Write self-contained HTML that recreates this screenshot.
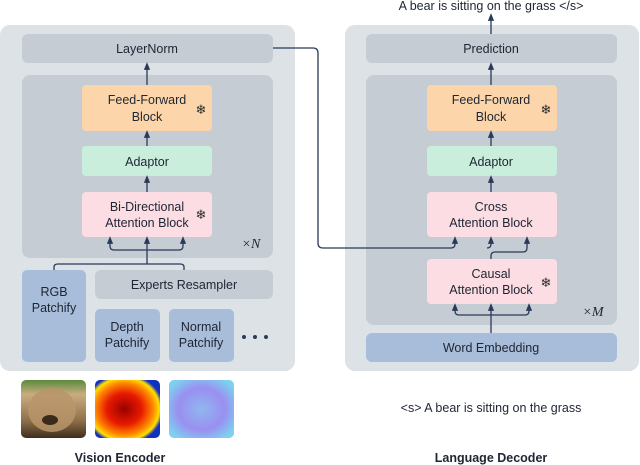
<!DOCTYPE html>
<html><head><meta charset="utf-8"><style>
body{margin:0;background:#fff}
svg{display:block}
text{font-family:"Liberation Sans","DejaVu Sans",sans-serif;font-size:12.5px;fill:#1e2533;text-anchor:middle}
.sf{font-size:13px;font-weight:bold;fill:#2a2a2a}
</style></head><body>
<svg width="640" height="465" viewBox="0 0 640 465" xmlns="http://www.w3.org/2000/svg">
<defs>
<marker id="a" viewBox="0 0 10 10" refX="5" refY="5" markerWidth="6" markerHeight="6" orient="auto-start-reverse"><path d="M0,1 L10,5 L0,9 z" fill="#2a3a58"/></marker>
<linearGradient id="bear" x1="0" y1="0" x2="0" y2="1"><stop offset="0" stop-color="#5a8a3a"/><stop offset="0.25" stop-color="#c9ad80"/><stop offset="0.7" stop-color="#8e6f4a"/><stop offset="1" stop-color="#3e2e1e"/></linearGradient>
<radialGradient id="depth" cx="0.45" cy="0.5" r="0.6"><stop offset="0" stop-color="#9a0000"/><stop offset="0.45" stop-color="#e81a00"/><stop offset="0.75" stop-color="#ff8a00"/><stop offset="0.9" stop-color="#ffe000"/><stop offset="1" stop-color="#1030c0"/></radialGradient>
<radialGradient id="norm" cx="0.5" cy="0.5" r="0.6"><stop offset="0" stop-color="#8fb8f0"/><stop offset="0.6" stop-color="#9a8ff0"/><stop offset="1" stop-color="#7ecff0"/></radialGradient>
</defs>
<rect x="0" y="25" width="295" height="346" rx="10" fill="#dde2e6"/>
<rect x="22" y="34" width="251" height="29" rx="6" fill="#c5ccd4"/>
<text x="147" y="53">LayerNorm</text>
<rect x="22" y="75" width="251" height="183" rx="8" fill="#c5ccd4"/>
<rect x="82" y="85" width="130" height="46" rx="4" fill="#fcd6aa"/>
<text x="147" y="104">Feed-Forward</text><text x="147" y="121">Block</text>
<text x="201" y="114" class="sf">❄</text>
<rect x="82" y="146" width="130" height="30" rx="4" fill="#c9efdc"/>
<text x="147" y="166">Adaptor</text>
<rect x="82" y="192" width="130" height="45" rx="4" fill="#fbdde3"/>
<text x="147" y="211">Bi-Directional</text><text x="147" y="227">Attention Block</text>
<text x="201" y="219" class="sf">❄</text>
<text x="251" y="248" style="font-family:'Liberation Serif',serif;font-style:italic;font-size:14px">×N</text>
<g fill="none" stroke="#2a3a58" stroke-width="1.3">
<line x1="147" y1="85" x2="147" y2="66" marker-end="url(#a)"/>
<line x1="147" y1="146" x2="147" y2="134" marker-end="url(#a)"/>
<line x1="147" y1="192" x2="147" y2="179" marker-end="url(#a)"/>
<line x1="147" y1="264" x2="147" y2="240" marker-end="url(#a)"/>
<path d="M110,240 V246 Q110,250 114,250 H179 Q183,250 183,246 V240" marker-start="url(#a)" marker-end="url(#a)"/>
<path d="M54,270 V267 Q54,264 58,264 H180 Q184,264 184,267 V270"/>
</g>
<rect x="22" y="270" width="64" height="92" rx="5" fill="#a8bdd9"/>
<text x="54" y="296">RGB</text><text x="54" y="312">Patchify</text>
<rect x="95" y="270" width="178" height="29" rx="6" fill="#c5ccd4"/>
<text x="184" y="289">Experts Resampler</text>
<rect x="95" y="309" width="65" height="53" rx="5" fill="#a8bdd9"/>
<text x="127" y="331">Depth</text><text x="127" y="347">Patchify</text>
<rect x="169" y="309" width="65" height="53" rx="5" fill="#a8bdd9"/>
<text x="201" y="331">Normal</text><text x="201" y="347">Patchify</text>
<circle cx="244" cy="337" r="2" fill="#2a3a58"/><circle cx="255" cy="337" r="2" fill="#2a3a58"/><circle cx="266" cy="337" r="2" fill="#2a3a58"/>
<rect x="345" y="25" width="294" height="346" rx="10" fill="#dde2e6"/>
<rect x="366" y="34" width="251" height="29" rx="6" fill="#c5ccd4"/>
<text x="491" y="53">Prediction</text>
<rect x="366" y="75" width="251" height="250" rx="8" fill="#c5ccd4"/>
<rect x="427" y="85" width="130" height="46" rx="4" fill="#fcd6aa"/>
<text x="491" y="104">Feed-Forward</text><text x="491" y="121">Block</text>
<text x="546" y="114" class="sf">❄</text>
<rect x="427" y="146" width="130" height="30" rx="4" fill="#c9efdc"/>
<text x="491" y="166">Adaptor</text>
<rect x="427" y="192" width="130" height="45" rx="4" fill="#fbdde3"/>
<text x="491" y="211">Cross</text><text x="491" y="227">Attention Block</text>
<rect x="427" y="259" width="130" height="45" rx="4" fill="#fbdde3"/>
<text x="491" y="278">Causal</text><text x="491" y="294">Attention Block</text>
<text x="546" y="287" class="sf">❄</text>
<text x="593" y="316" style="font-family:'Liberation Serif',serif;font-style:italic;font-size:14px">×M</text>
<rect x="366" y="333" width="251" height="29" rx="6" fill="#a8bdd9"/>
<text x="491" y="352">Word Embedding</text>
<text x="491" y="10">A bear is sitting on the grass  &lt;/s&gt;</text>
<g fill="none" stroke="#2a3a58" stroke-width="1.3">
<line x1="491" y1="34" x2="491" y2="17" marker-end="url(#a)"/>
<line x1="491" y1="85" x2="491" y2="66" marker-end="url(#a)"/>
<line x1="491" y1="146" x2="491" y2="134" marker-end="url(#a)"/>
<line x1="491" y1="192" x2="491" y2="179" marker-end="url(#a)"/>
<line x1="491" y1="333" x2="491" y2="307" marker-end="url(#a)"/>
<path d="M455,307 V311 Q455,315 459,315 H525 Q529,315 529,311 V307" marker-start="url(#a)" marker-end="url(#a)"/>
<path d="M273,48 H313 Q318,48 318,53 V243 Q318,248 323,248 H451 Q455,248 455,244 V240" marker-end="url(#a)"/>
<path d="M487,248 Q491,248 491,244 V240" marker-end="url(#a)"/>
<path d="M491,259 V256 Q491,252 495,252 H523 Q527,252 527,248 V240" marker-end="url(#a)"/>
</g>
<text x="491" y="412">&lt;s&gt; A bear is sitting on the grass</text>
<rect x="21" y="380" width="65" height="58" rx="5" fill="url(#bear)"/>
<ellipse cx="52" cy="410" rx="24" ry="22" fill="#b8956a" opacity="0.85"/>
<ellipse cx="50" cy="420" rx="8" ry="5" fill="#3a2a1a"/>
<rect x="95" y="380" width="65" height="58" rx="5" fill="url(#depth)"/>
<rect x="169" y="380" width="65" height="58" rx="5" fill="url(#norm)"/>
<text x="120" y="462" style="font-weight:bold">Vision Encoder</text>
<text x="491" y="462" style="font-weight:bold">Language Decoder</text>
</svg>
</body></html>
